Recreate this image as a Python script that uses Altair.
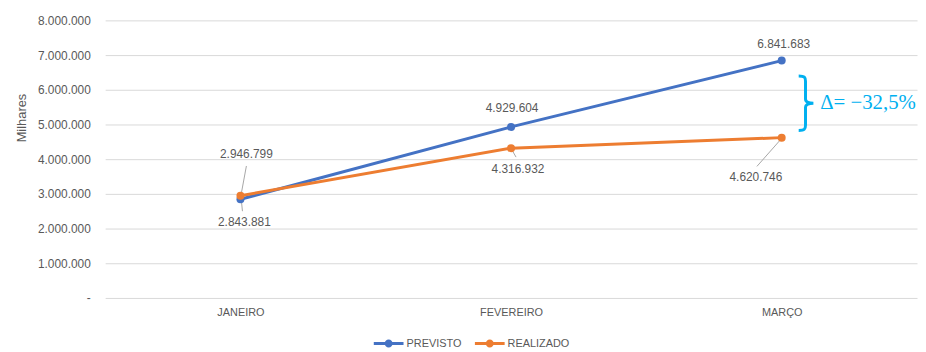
import altair as alt
import pandas as pd

months = ["JANEIRO", "FEVEREIRO", "MARÇO"]
series = ["PREVISTO", "REALIZADO"]
previsto = [2843881, 4929604, 6841683]
realizado = [2946799, 4316932, 4620746]
colors = ["#4472C4", "#ED7D31"]

# label offsets (px) for each point: (dx, dy)
prev_label_off = [(4, 23), (1, -19), (2, -17)]
real_label_off = [(6, -42), (7, 21), (-26, 40)]
# leader lines (series, month index, start dx, start dy, end dx, end dy) in px
leaders = [
    ("PREVISTO", 0, 1, 2, 2, 12),
    ("REALIZADO", 0, 1, -3, 6, -30),
    ("REALIZADO", 1, 1, 2, 5, 9),
    ("REALIZADO", 2, -2, 3, -25, 29),
]
# annotation: brace and delta text positions (data units)
brace_pos = (2.09, 5614000)
delta_pos = (2.142, 5630000)

W, H = 819, 280
YMAX = 8000000
px_x = W / 3.0
px_y = H / YMAX

rows = []
for i, m in enumerate(months):
    rows.append({"x": i, "y": previsto[i], "serie": "PREVISTO"})
for i, m in enumerate(months):
    rows.append({"x": i, "y": realizado[i], "serie": "REALIZADO"})
df = pd.DataFrame(rows)


def fmt(v):
    return f"{v:,}".replace(",", ".")


lead_rows = []
for s, i, x0, y0, x1, y1 in leaders:
    v = previsto[i] if s == "PREVISTO" else realizado[i]
    lead_rows.append({
        "x": i + x0 / px_x, "x2": i + x1 / px_x,
        "y": v - y0 / px_y, "y2": v - y1 / px_y,
    })
lead_df = pd.DataFrame(lead_rows)

delta = (realizado[2] / previsto[2] - 1) * 100
delta_txt = "Δ= −" + f"{abs(delta):.1f}".replace(".", ",") + "%"

xscale = alt.Scale(domain=[-0.5, 2.5], nice=False, zero=False)
yscale = alt.Scale(domain=[0, YMAX], nice=False)

X = alt.X("x:Q", scale=xscale, title=None,
          axis=alt.Axis(values=[0, 1, 2], grid=False, domain=False, ticks=False, tickSize=0,
                        labelExpr="['JANEIRO','FEVEREIRO','MARÇO'][datum.value]",
                        labelFontSize=11, labelColor="#595959", labelPadding=9,
                        labelFont="Liberation Sans"))
Y = alt.Y("y:Q", scale=yscale, title="Milhares",
          axis=alt.Axis(values=list(range(0, YMAX + 1, 1000000)), domain=False, ticks=False,
                        tickSize=0, gridColor="#D9D9D9", gridWidth=1,
                        labelExpr="datum.value == 0 ? '-\u00a0\u00a0' : replace(format(datum.value, ','), /,/g, '.')",
                        labelFontSize=12, labelColor="#595959", labelPadding=15,
                        labelFont="Liberation Sans",
                        titleFontSize=13, titleColor="#595959", titleFontWeight="normal",
                        titleFont="Liberation Sans", titleAngle=270, titleX=-84, titleY=98,
                        titleAlign="center", titleBaseline="middle"))

legend_path = ("M-1,-0.1L1,-0.1L1,0.1L-1,0.1Z "
               "M0.27,0A0.27,0.27,0,1,1,-0.27,0A0.27,0.27,0,1,1,0.27,0Z")

legend = alt.Legend(title=None, orient="none", direction="horizontal",
                    legendX=271, legendY=311, padding=0,
                    symbolType=legend_path, symbolSize=900,
                    symbolStrokeWidth=0, symbolOpacity=1, labelOffset=3,
                    columnPadding=13, labelFontSize=11,
                    labelColor="#595959", labelFont="Liberation Sans")
color_enc = alt.Color("serie:N", scale=alt.Scale(domain=series, range=colors), legend=legend)

base = alt.Chart(df)
lines = base.mark_line(strokeWidth=3).encode(x=X, y=Y, color=color_enc, detail="serie:N")
points = base.mark_circle(size=65, opacity=1).encode(x=X, y=Y, color=color_enc)

leader_layer = alt.Chart(lead_df).mark_rule(color="#A6A6A6", strokeWidth=1).encode(
    x=X, x2="x2:Q", y=Y, y2="y2:Q")

text_layers = []
for s, vals, offs in [("PREVISTO", previsto, prev_label_off), ("REALIZADO", realizado, real_label_off)]:
    for i in range(3):
        tdf = pd.DataFrame([{"x": i, "y": vals[i], "label": fmt(vals[i])}])
        text_layers.append(
            alt.Chart(tdf).mark_text(dx=offs[i][0], dy=offs[i][1], fontSize=12,
                                     color="#595959", font="Liberation Sans",
                                     baseline="middle", align="center")
            .encode(x=X, y=Y, text="label:N"))

brace_df = pd.DataFrame([{"x": brace_pos[0], "y": brace_pos[1]}])
brace_path = ("M-0.27,-1 C-0.05,-1 -0.02,-0.95 -0.02,-0.8 L-0.02,-0.15 "
              "C-0.02,-0.04 0.1,0 0.27,0 C0.1,0 -0.02,0.04 -0.02,0.15 "
              "L-0.02,0.8 C-0.02,0.95 -0.05,1 -0.27,1")
brace = alt.Chart(brace_df).mark_point(shape=brace_path, size=3025, filled=False,
                                       stroke="#00B0F0", strokeWidth=3, opacity=1).encode(x=X, y=Y)

delta_df = pd.DataFrame([{"x": delta_pos[0], "y": delta_pos[1], "label": delta_txt}])
delta_text = alt.Chart(delta_df).mark_text(align="left", baseline="middle", fontSize=21,
                                           font="Liberation Serif", color="#00B0F0").encode(
    x=X, y=Y, text="label:N")

chart = alt.layer(lines, leader_layer, points, *text_layers, brace, delta_text).properties(
    width=W, height=H,
    autosize=alt.AutoSizeParams(type="none"),
    padding={"left": 98, "top": 11, "right": 1, "bottom": 50},
).configure(font="Liberation Sans", background="white").configure_view(stroke=None)

chart.save("out.html", embed_options={"renderer": "svg", "actions": False})
